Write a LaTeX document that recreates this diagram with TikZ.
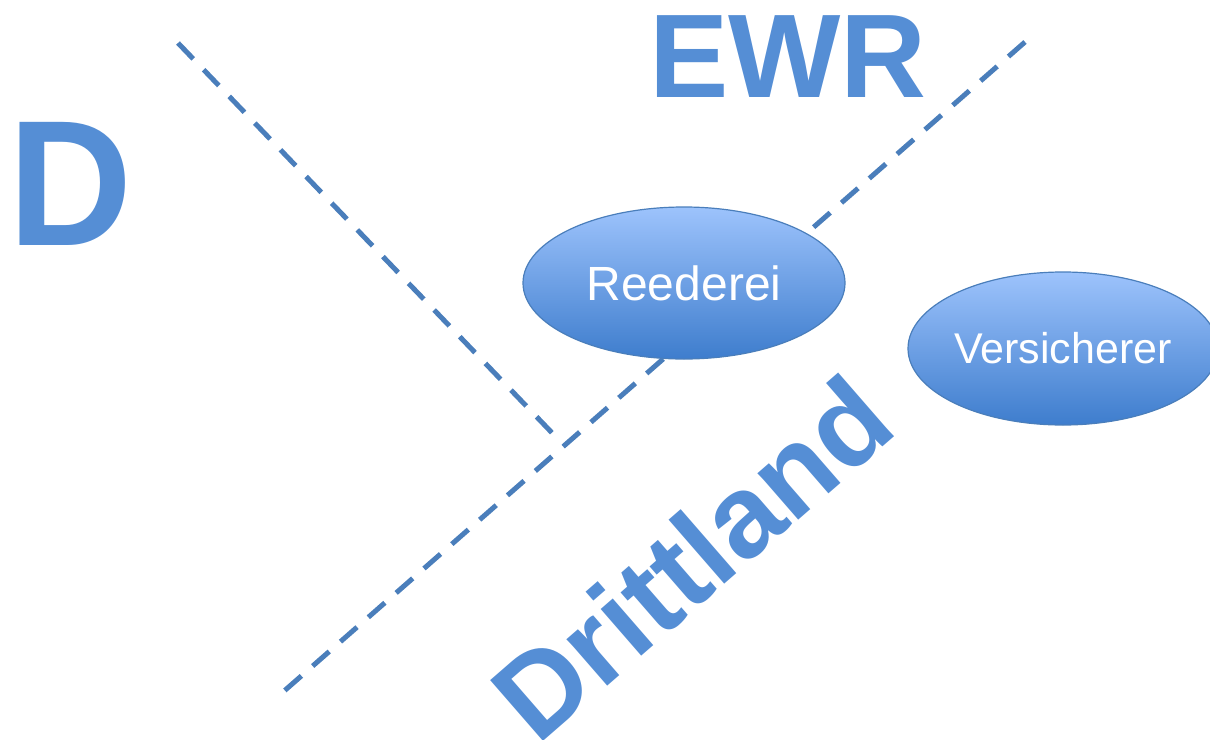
\documentclass[tikz,border=0pt]{standalone}
\usepackage{fontspec}
\setmainfont{Liberation Sans}
\usetikzlibrary{shapes.geometric}
\definecolor{linecol}{RGB}{74,126,187}
\definecolor{txtcol}{RGB}{85,142,213}
\definecolor{elltop}{RGB}{157,195,252}
\definecolor{ellbot}{RGB}{62,125,205}
\definecolor{ellborder}{RGB}{74,126,187}
\tikzset{
  border/.style={linecol, line width=5pt, dash pattern=on 22pt off 15pt},
  bubble/.style={ellipse, draw=ellborder, line width=1.2pt, top color=elltop, bottom color=ellbot, inner sep=0pt, text=white},
  region/.style={text=txtcol, font=\bfseries, inner sep=0pt}
}
\begin{document}
\begin{tikzpicture}[x=1pt,y=-1pt]
\useasboundingbox (0,0) rectangle (1210,739);
\clip (0,0) rectangle (1210,739);
% coordinates of the dashed borders
\coordinate (l1a) at (178,43);
\coordinate (l1b) at (556,437);
\coordinate (l2a) at (1025,42);
\coordinate (l2b) at (283,692);
\draw[border] (l1a) -- (l1b);
\draw[border] (l2a) -- (l2b);
% region labels
\node[region, anchor=base, xscale=0.96, font=\bfseries\fontsize{179}{179}\selectfont] (d) at (71,245) {D};
\node[region, anchor=base, font=\bfseries\fontsize{119}{119}\selectfont] (ewr) at (788,97) {EWR};
\node[region, anchor=base, rotate=41, font=\bfseries\fontsize{117}{117}\selectfont] (dritt) at (719,589) {Drittland};
% entities
\node[bubble, minimum width=322pt, minimum height=152pt, font=\fontsize{48}{48}\selectfont] (reed) at (684,283) {Reederei};
\node[bubble, minimum width=310pt, minimum height=153pt, font=\fontsize{43}{43}\selectfont] (vers) at (1063,348.5) {Versicherer};
\end{tikzpicture}
\end{document}
